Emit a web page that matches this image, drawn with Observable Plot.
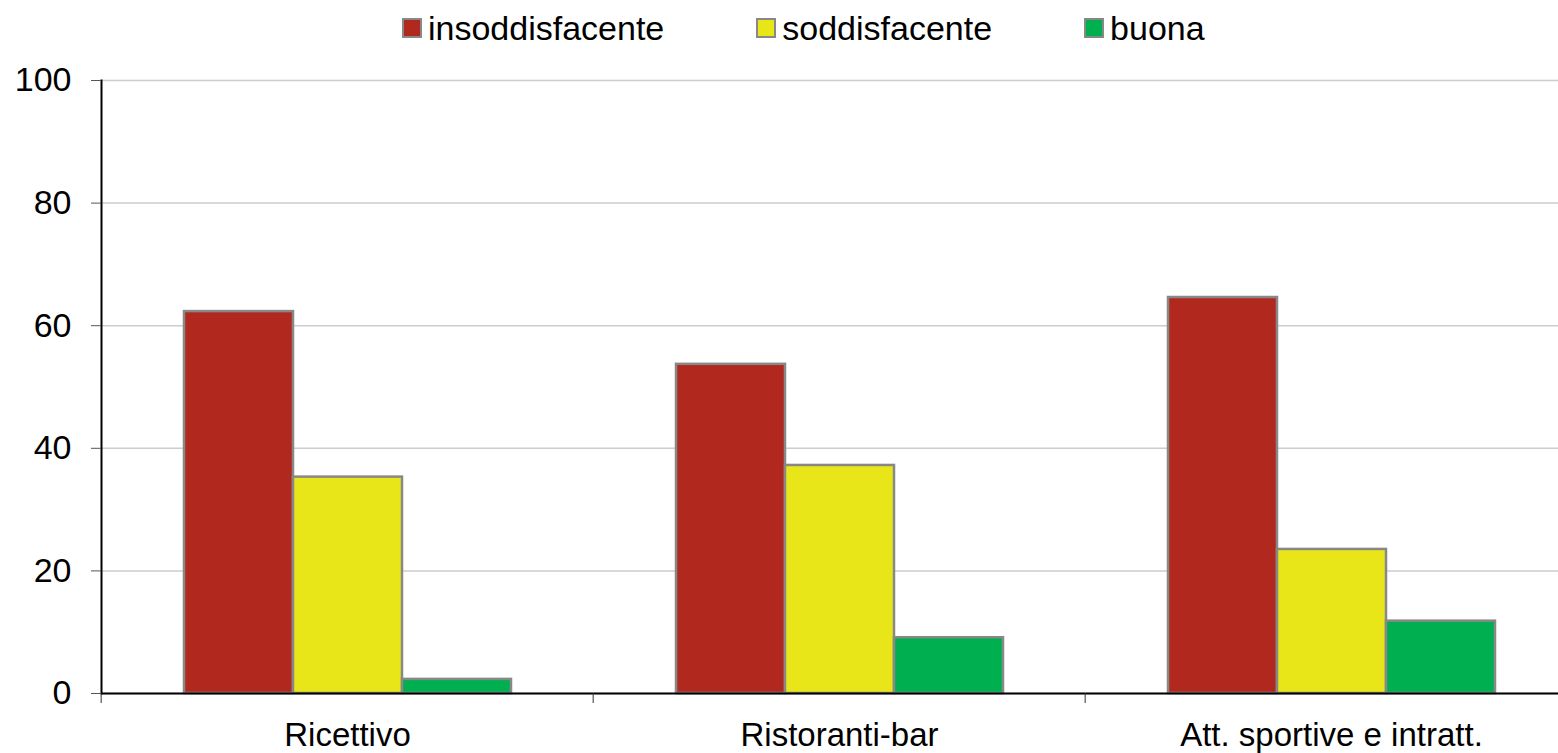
<!DOCTYPE html>
<html><head><meta charset="utf-8">
<script src="https://cdn.jsdelivr.net/npm/d3@7"></script>
<script src="https://cdn.jsdelivr.net/npm/@observablehq/plot@0.6"></script>
<style>
body{margin:0;overflow:hidden;background:#fff;font-family:"Liberation Sans",Arial,sans-serif;}
#legend{position:relative;height:60px;display:flex;align-items:center;padding-left:402px;padding-bottom:4px;gap:92px;box-sizing:border-box;}
.item{display:flex;align-items:center;font-size:34px;color:#000;line-height:40px;}
.sw{width:16px;height:16px;border:2.5px solid #888;margin-right:6px;}
#chart{width:1578px;}
</style></head><body>
<div id="legend"></div><div id="chart"></div>
<script>
const categories = ["Ricettivo", "Ristoranti-bar", "Att. sportive e intratt."];
const series = ["insoddisfacente", "soddisfacente", "buona"];
const insoddisfacente = [62.3, 53.7, 64.6];
const soddisfacente = [35.3, 37.2, 23.5];
const buona = [2.3, 9.1, 11.8];
const colors = ["#B0281E", "#E8E619", "#00B050"];
const yTicks = [0, 20, 40, 60, 80, 100];

const seriesValues = [insoddisfacente, soddisfacente, buona];
const data = categories.flatMap((c, i) => series.map((s, j) => ({category: c, series: s, value: seriesValues[j][i]})));

const legend = document.getElementById("legend");
series.forEach((s, j) => {
  const it = document.createElement("div"); it.className = "item";
  const sw = document.createElement("div"); sw.className = "sw"; sw.style.background = colors[j];
  const t = document.createElement("span"); t.textContent = s;
  it.append(sw, t); legend.append(it);
});

const W = 1578, ML = 100;
const band = (W - ML) / categories.length;

const chart = Plot.plot({
  width: W, height: 693,
  marginLeft: ML, marginRight: 0, marginTop: 20, marginBottom: 60,
  style: {fontFamily: "'Liberation Sans', Arial, sans-serif", background: "#fff", color: "#000"},
  fx: {domain: categories, padding: 0, label: null, axis: null},
  x: {domain: series, paddingInner: 0, paddingOuter: 0.75, axis: null},
  y: {domain: [0, 100], label: null},
  color: {domain: series, range: colors},
  marks: [
    Plot.gridY(yTicks, {stroke: "#cccccc", strokeOpacity: 1, strokeWidth: 1.5}),
    Plot.barY(data, {fx: "category", x: "series", y: "value", fill: "series", stroke: "#888", strokeWidth: 2.5}),
    Plot.ruleY([0], {stroke: "#000", strokeWidth: 2}),
    Plot.frame({anchor: "left", facetAnchor: "left", stroke: "#000", strokeWidth: 2}),
    Plot.axisY(yTicks, {fontSize: 34, tickSize: 10, tickPadding: 20, stroke: "#555", label: null}),
    Plot.axisFx({anchor: "bottom", fontSize: 33, tickSize: 0, tickPadding: 29, label: null}),
    Plot.axisFx({anchor: "bottom", tickFormat: () => "", tickSize: 10, dx: -band / 2, stroke: "#333", label: null})
  ]
});
document.getElementById("chart").append(chart);
</script>
</body></html>
